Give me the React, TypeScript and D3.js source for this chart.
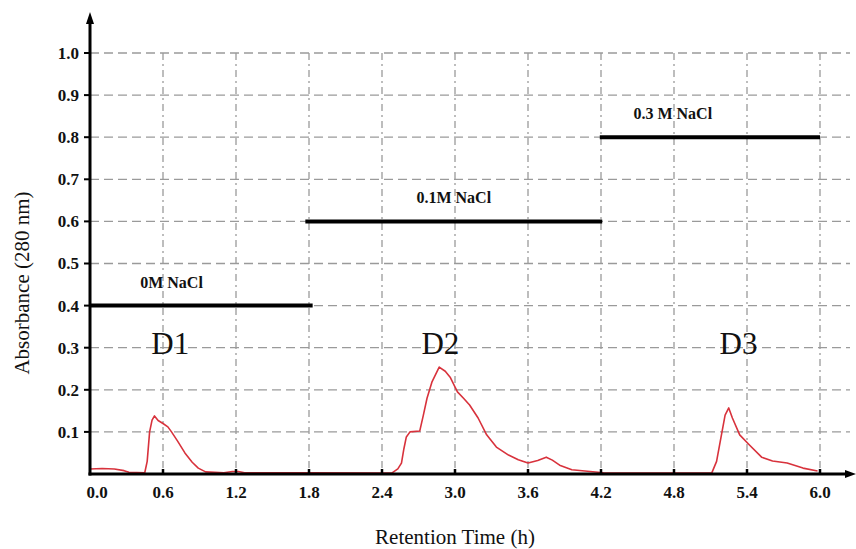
import React from "react";
import * as d3 from "d3";

const timeH = [0, 0.1, 0.2, 0.28, 0.32, 0.45, 0.47, 0.49, 0.51, 0.53, 0.56, 0.6, 0.64, 0.67, 0.72, 0.78, 0.84, 0.89, 0.95, 1.1, 1.17, 1.22, 1.27, 1.8, 2.4, 2.48, 2.53, 2.56, 2.58, 2.6, 2.63, 2.71, 2.74, 2.77, 2.81, 2.87, 2.92, 2.96, 3.02, 3.07, 3.12, 3.19, 3.26, 3.34, 3.44, 3.52, 3.6, 3.68, 3.75, 3.8, 3.86, 3.96, 4.11, 4.22, 4.6, 5.0, 5.11, 5.15, 5.19, 5.22, 5.25, 5.28, 5.34, 5.42, 5.52, 5.61, 5.73, 5.86, 5.98];
const absorbance = [0.012, 0.013, 0.012, 0.008, 0.004, 0.003, 0.03, 0.1, 0.128, 0.138, 0.127, 0.12, 0.112, 0.1, 0.078, 0.05, 0.028, 0.014, 0.005, 0.003, 0.006, 0.006, 0.003, 0.003, 0.002, 0.002, 0.012, 0.026, 0.06, 0.088, 0.1, 0.102, 0.14, 0.18, 0.218, 0.254, 0.244, 0.23, 0.195, 0.18, 0.164, 0.133, 0.093, 0.064, 0.045, 0.034, 0.026, 0.032, 0.04, 0.033, 0.021, 0.01, 0.006, 0.003, 0.002, 0.002, 0.002, 0.03, 0.093, 0.14, 0.157, 0.133, 0.093, 0.069, 0.04, 0.031, 0.026, 0.014, 0.007];

const xTicks = [0, 0.6, 1.2, 1.8, 2.4, 3.0, 3.6, 4.2, 4.8, 5.4, 6.0];
const yTicks = [0.1, 0.2, 0.3, 0.4, 0.5, 0.6, 0.7, 0.8, 0.9, 1.0];

const saltLabels = ["0M NaCl", "0.1M NaCl", "0.3 M NaCl"];
const saltStart = [0, 1.77, 4.19];
const saltEnd = [1.83, 4.21, 6.0];
const saltLevel = [0.4, 0.6, 0.8];
const saltLabelX = [0.67, 2.99, 4.79];

const peakLabels = ["D1", "D2", "D3"];
const peakX = [0.66, 2.88, 5.33];
const peakY = [0.31, 0.31, 0.31];

const W = 856;
const H = 549;
const serif = '"Liberation Serif", "DejaVu Serif", "Times New Roman", Times, serif';

export default function App() {
  const x = d3.scaleLinear().domain([0, 6]).range([90, 820]);
  const y = d3.scaleLinear().domain([0, 1]).range([474, 53]);
  const pts: [number, number][] = timeH.map((t, i) => [t, absorbance[i]]);
  const line = d3
    .line<[number, number]>()
    .x((d) => x(d[0]))
    .y((d) => y(d[1]));
  const x0 = x(0);
  const yb = y(0);
  const tStyle = { fontFamily: serif };
  return (
    <svg
      width={W}
      height={H}
      style={{ position: "absolute", left: 0, top: 0, background: "#fff", fontFamily: serif }}
    >
      <rect x={0} y={0} width={W} height={H} fill="#fff" />
      {/* grid */}
      {yTicks.map((v) => (
        <line
          key={"gy" + v}
          x1={x0}
          x2={850}
          y1={y(v)}
          y2={y(v)}
          stroke="#9a9a9a"
          strokeWidth={1.3}
          strokeDasharray="9,5"
        />
      ))}
      {xTicks.slice(1).map((v) => (
        <line
          key={"gx" + v}
          x1={x(v)}
          x2={x(v)}
          y1={y(1)}
          y2={yb}
          stroke="#9a9a9a"
          strokeWidth={1.3}
          strokeDasharray="7,4,2,4"
        />
      ))}
      {/* salt bars */}
      {saltLabels.map((s, i) => (
        <g key={s}>
          <line
            x1={x(saltStart[i])}
            x2={x(saltEnd[i])}
            y1={y(saltLevel[i])}
            y2={y(saltLevel[i])}
            stroke="#000"
            strokeWidth={4}
          />
          <text
            x={x(saltLabelX[i])}
            y={y(saltLevel[i]) - 18}
            textAnchor="middle"
            fontSize={16}
            fontWeight="bold"
            fill="#111"
            style={tStyle}
          >
            {s}
          </text>
        </g>
      ))}
      {peakLabels.map((p, i) => (
        <text
          key={p}
          x={x(peakX[i])}
          y={y(peakY[i]) + 11}
          textAnchor="middle"
          fontSize={31}
          fill="#111"
          style={tStyle}
        >
          {p}
        </text>
      ))}
      {/* curve */}
      <path d={line(pts) || ""} fill="none" stroke="#d8323c" strokeWidth={1.6} strokeLinejoin="round" />
      {/* axes */}
      <line x1={x0} x2={x0} y1={yb + 1.5} y2={20} stroke="#000" strokeWidth={3} />
      <path d={`M${x0 - 4},24 L${x0},12 L${x0 + 4},24 Z`} fill="#000" />
      <line x1={x0 - 1.5} x2={848} y1={yb} y2={yb} stroke="#000" strokeWidth={3} />
      <path d={`M845,${yb - 4} L856,${yb} L845,${yb + 4} Z`} fill="#000" />
      {yTicks.map((v) => (
        <g key={"ty" + v}>
          <line x1={x0 - 6} x2={x0} y1={y(v)} y2={y(v)} stroke="#000" strokeWidth={2} />
          <text
            x={x0 - 11}
            y={y(v)}
            dy="0.35em"
            textAnchor="end"
            fontSize={17}
            fontWeight="bold"
            fill="#111"
            style={tStyle}
          >
            {v.toFixed(1)}
          </text>
        </g>
      ))}
      {xTicks.map((v) => (
        <g key={"tx" + v}>
          {v > 0 && (
            <line x1={x(v)} x2={x(v)} y1={yb - 5} y2={yb} stroke="#000" strokeWidth={2.5} />
          )}
          <text
            x={x(v) + (v === 0 ? 7 : 0)}
            y={498}
            textAnchor="middle"
            fontSize={17}
            fontWeight="bold"
            fill="#111"
            style={tStyle}
          >
            {v.toFixed(1)}
          </text>
        </g>
      ))}
      <text
        transform={`translate(29,283) rotate(-90)`}
        textAnchor="middle"
        fontSize={21}
        fill="#111"
        style={tStyle}
      >
        Absorbance (280 nm)
      </text>
      <text x={455} y={544} textAnchor="middle" fontSize={21} fill="#111" style={tStyle}>
        Retention Time (h)
      </text>
    </svg>
  );
}
